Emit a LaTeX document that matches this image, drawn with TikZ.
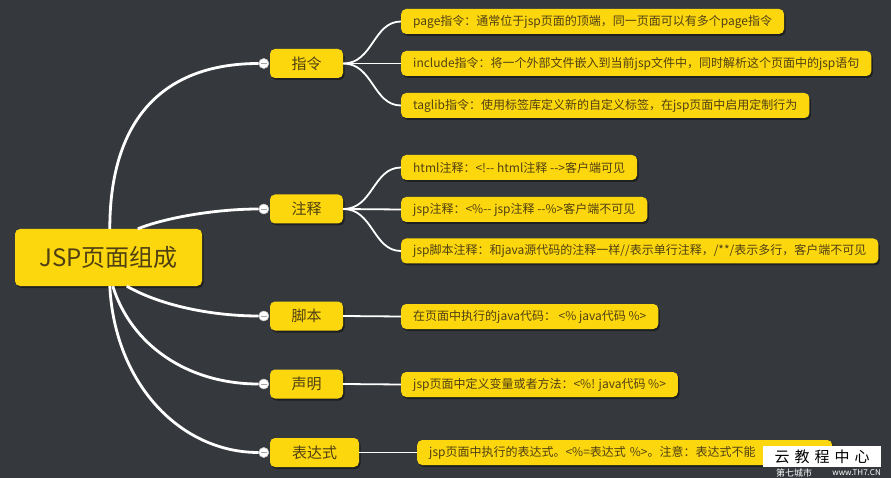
\documentclass[tikz,border=0pt]{standalone}
\usepackage{fontspec}
\setmainfont{Noto Sans CJK SC}
\usetikzlibrary{shadows}
\definecolor{bg}{HTML}{35393D}
\definecolor{ylw}{HTML}{FDD70E}
\definecolor{ink}{HTML}{4F4012}
\newcommand{\dd}{-{}-}
\tikzset{
  box/.style={fill=ylw, rounded corners=5pt, text=ink, inner ysep=0pt,
    drop shadow={shadow xshift=1.5pt, shadow yshift=-2pt, fill=black, opacity=0.45}},
  rootbox/.style={box, minimum width=187pt, minimum height=57pt, font=\fontsize{24}{26}\selectfont},
  topic/.style={box, minimum height=29pt, font=\fontsize{15}{17}\selectfont},
  leaf/.style={box, anchor=west, minimum height=25pt, inner xsep=12pt, font=\fontsize{12}{14}\selectfont},
  knob/.style={circle, fill=white, draw=gray!60, minimum size=10pt, inner sep=0pt,
    path picture={\draw[gray!70, line width=0.8pt] ([xshift=-3pt]path picture bounding box.center) -- ([xshift=3pt]path picture bounding box.center);}},
  trunk/.style={draw=white, line width=2.8pt},
  twig/.style={draw=white, line width=1.8pt},
}
\begin{document}
\begin{tikzpicture}[x=1pt, y=-1pt]
\fill[bg] (0,0) rectangle (891,478);
\useasboundingbox (0,0) rectangle (891,478);

% root
\node[rootbox] (root) at (108.5,257.5) {JSP页面组成};

% topics
\node[topic, minimum width=73pt] (t1) at (306.5,63.5) {指令};
\node[topic, minimum width=73pt] (t2) at (306.5,209) {注释};
\node[topic, minimum width=73pt] (t3) at (306.5,316) {脚本};
\node[topic, minimum width=73pt] (t4) at (306.5,384) {声明};
\node[topic, minimum width=89pt] (t5) at (314.5,452.5) {表达式};

% leaves
\node[leaf] (l1) at (401,21.5) {page指令：通常位于jsp页面的顶端，同一页面可以有多个page指令};
\node[leaf] (l2) at (401,63.5) {include指令：将一个外部文件嵌入到当前jsp文件中，同时解析这个页面中的jsp语句};
\node[leaf] (l3) at (401,105.5) {taglib指令：使用标签库定义新的自定义标签，在jsp页面中启用定制行为};
\node[leaf] (l4) at (401,167.5) {html注释：<!\dd{} html注释 \dd{}>客户端可见};
\node[leaf] (l5) at (401,209.5) {jsp注释：<\%\dd{} jsp注释 \dd\%>客户端不可见};
\node[leaf] (l6) at (401,251) {jsp脚本注释：和java源代码的注释一样//表示单行注释，/**/表示多行，客户端不可见};
\node[leaf] (l7) at (401,316.5) {在页面中执行的java代码： <\% java代码 \%>};
\node[leaf] (l8) at (401,384.5) {jsp页面中定义变量或者方法：<\%! java代码 \%>};
\node[leaf, text width=391pt, align=left] (l9) at (417,452.5) {jsp页面中执行的表达式。<\%=表达式 \%>。注意：表达式不能};

% root anchors
\coordinate (r1) at ([xshift=95pt]root.north west);
\coordinate (r2) at ([xshift=123pt]root.north west);
\coordinate (r3) at ([xshift=112pt]root.south west);
\coordinate (r4) at ([xshift=98pt]root.south west);
\coordinate (r5) at ([xshift=95pt]root.south west);

% knobs
\node[knob] (k1) at ([xshift=-6pt]t1.west) {};
\node[knob] (k2) at ([xshift=-6pt]t2.west) {};
\node[knob] (k3) at ([xshift=-6pt]t3.west) {};
\node[knob] (k4) at ([xshift=-6pt]t4.west) {};
\node[knob] (k5) at ([xshift=-6pt]t5.west) {};

% trunk connectors
\path[trunk] (r1) .. controls +(0,-110) and +(-95,0) .. (k1.west);
\path[trunk] (r2) .. controls +(30,-12) and +(-40,0) .. (k2.west);
\path[trunk] (r3) .. controls +(35,20) and +(-45,0) .. (k3.west);
\path[trunk] (r4) .. controls +(18,58) and +(-72,0) .. (k4.west);
\path[trunk] (r5) .. controls +(5,98) and +(-78,0) .. (k5.west);

% twig connectors
\path[twig] (t1.east) .. controls +(30,0) and +(-28,0) .. (l1.west);
\path[twig] (t1.east) -- (l2.west);
\path[twig] (t1.east) .. controls +(30,0) and +(-28,0) .. (l3.west);
\path[twig] (t2.east) .. controls +(30,0) and +(-28,0) .. (l4.west);
\path[twig] (t2.east) -- (l5.west);
\path[twig] (t2.east) .. controls +(30,0) and +(-28,0) .. (l6.west);
\path[twig] (t3.east) -- (l7.west);
\path[twig] (t4.east) -- (l8.west);
\path[twig] (t5.east) -- (l9.west);

% redraw knobs on top
\node[knob] at (k1) {};
\node[knob] at (k2) {};
\node[knob] at (k3) {};
\node[knob] at (k4) {};
\node[knob] at (k5) {};

% watermark
\node[fill=white, minimum width=118pt, minimum height=21pt, inner sep=0pt, text=black,
  font=\fontsize{15}{16}\selectfont] (wm) at (822,456.5) {云\,\,教\,\,程\,\,中\,\,心};
\node[text=white, font=\fontsize{9}{10}\selectfont, inner sep=0pt, anchor=north west] (wm2) at (776,469) {第七城市};
\node[text=white, font=\fontsize{8}{9}\selectfont, inner sep=0pt, anchor=north east] (wm3) at (881,469.5) {www.TH7.CN};
\end{tikzpicture}
\end{document}
